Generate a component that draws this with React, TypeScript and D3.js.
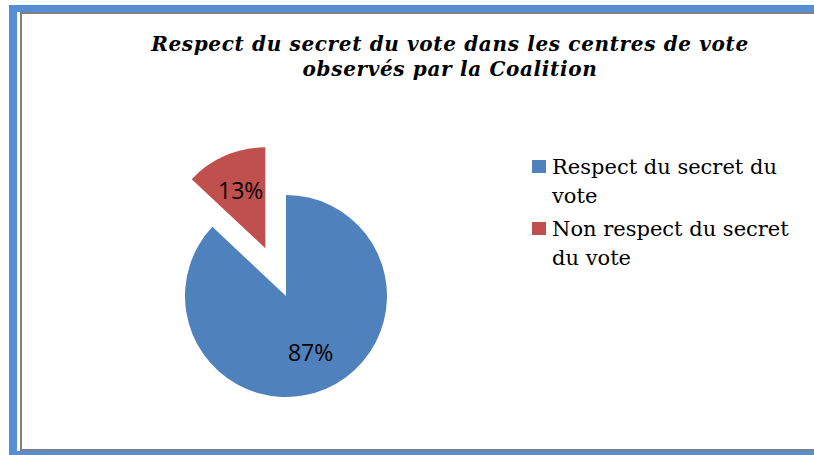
import React from 'react'
import * as d3 from 'd3'

const categories = ['Respect du secret du vote', 'Non respect du secret du vote']
const values = [87, 13]
const legendLines = [['Respect du secret du', 'vote'], ['Non respect du secret', 'du vote']]
const titleLines = ['Respect du secret du vote dans les centres de vote', 'observés par la Coalition']
const colors = ['#4F81BD', '#C0504D']
const exploded = [0, 52]

export default function App() {
  const width = 814
  const height = 455
  const cx = 286
  const cy = 296
  const r = 101
  const labelR = 62

  const pie = d3.pie<number>().sort(null).value(d => d)
  const arcs = pie(values)
  const arc = d3.arc<d3.PieArcDatum<number>>().innerRadius(0).outerRadius(r)
  const total = d3.sum(values)

  const frameBlue = '#558ED5'
  const frameGray = '#808080'

  return <svg width={width} height={height} style={{ position: 'absolute', left: 0, top: 0 }}>
    <rect x={0} y={0} width={width} height={height} fill="white" />
    {/* frame */}
    <rect x={9} y={5} width={width - 9} height={7} fill={frameBlue} />
    <rect x={9} y={5} width={8} height={height - 5} fill={frameBlue} />
    <rect x={9} y={451} width={width - 9} height={4} fill={frameBlue} />
    <rect x={20} y={12} width={width - 20} height={2} fill={frameGray} />
    <rect x={20} y={12} width={2} height={439} fill={frameGray} />
    <rect x={20} y={449} width={width - 20} height={2} fill={frameGray} />

    <g fontFamily="'DejaVu Serif', serif" fontWeight="bold" fontStyle="italic" fontSize={20} letterSpacing={0.65} textAnchor="middle" fill="#000">
      {titleLines.map((t, i) => <text key={i} x={450} y={51 + i * 25}>{t}</text>)}
    </g>

    {arcs.map((a, i) => {
      const mid = (a.startAngle + a.endAngle) / 2
      const dx = Math.sin(mid) * exploded[i]
      const dy = -Math.cos(mid) * exploded[i]
      const lx = Math.sin(mid) * labelR
      const ly = -Math.cos(mid) * labelR
      return <g key={i} transform={`translate(${cx + dx},${cy + dy})`}>
        <path d={arc(a) || ''} fill={colors[i]} />
        <text x={lx} y={ly} dy="0.35em" textAnchor="middle" fontFamily="'Open Sans', sans-serif" fontSize={23} fill="#000">
          {d3.format('.0%')(a.data / total)}
        </text>
      </g>
    })}

    <g fontFamily="'DejaVu Serif', serif" fontSize={21} fill="#000">
      {categories.map((c, i) => <g key={c} transform={`translate(532,${160 + i * 62})`}>
        <rect x={0} y={0} width={14} height={13} fill={colors[i]} />
        {legendLines[i].map((l, j) => <text key={j} x={20} y={14 + j * 29}>{l}</text>)}
      </g>)}
    </g>
  </svg>
}
